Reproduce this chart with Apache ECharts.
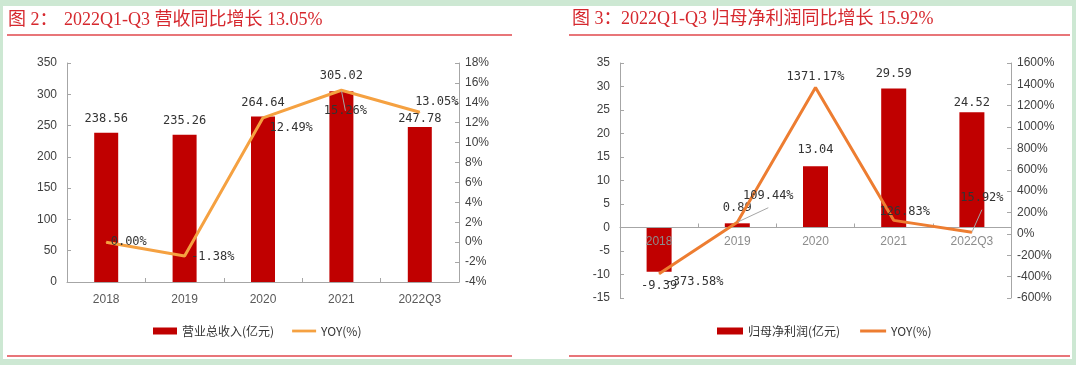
<!DOCTYPE html>
<html>
<head>
<meta charset="utf-8">
<script src="https://cdn.jsdelivr.net/npm/echarts@6/dist/echarts.min.js"></script>
<style>
html,body{margin:0;padding:0;background:#cde8d3;}
#c{width:1076px;height:365px;}
</style>
</head>
<body>
<div id="c"></div>
<script>
// ---- data ----
const categories = ['2018', '2019', '2020', '2021', '2022Q3'];
const revenue = [238.56, 235.26, 264.64, 305.02, 247.78];       // 营业总收入(亿元)
const revenueYoy = [0.00, -1.38, 12.49, 15.26, 13.05];          // YOY(%)
const profit = [-9.39, 0.89, 13.04, 29.59, 24.52];              // 归母净利润(亿元)
const profitYoy = [-373.58, 109.44, 1371.17, 126.83, 15.92];    // YOY(%)
const leftAxis1 = [0, 350, 50];
const rightAxis1 = [-4, 18, 2];
const leftAxis2 = [-15, 35, 5];
const rightAxis2 = [-600, 1600, 200];
const title1 = ['图 2：', '2022Q1-Q3 营收同比增长 13.05%'];
const title2 = ['图 3：', '2022Q1-Q3 归母净利润同比增长 15.92%'];

// ---- styles ----
const RED = '#c00000';
const ORANGE1 = '#f5a141';
const ORANGE2 = '#ed7d31';
const AX = '#a6a6a6';
const TXT = '#404040';
const LBL = {fontFamily: 'DejaVu Sans Mono', fontSize: 12, color: '#333'};
const TITLE_FONT = '18px "Liberation Serif", "Noto Sans CJK SC", serif';
const LINE_ICON = 'path://M0,0h26v3h-26z';
const GUIDE = {show: true, lineStyle: {color: '#a6a6a6', width: 1}};

const grid2 = {left: 620, right: 1076 - 1011, top: 63, bottom: 365 - 298};
// distance from the zero line of the right chart's left axis to the grid bottom
const grid2Height = 365 - grid2.top - grid2.bottom;
const zeroToBottom = grid2Height * (0 - leftAxis2[0]) / (leftAxis2[1] - leftAxis2[0]);

const lineLabel1 = [
  {position: 'right', distance: 4, offset: [0, 0]},
  {position: 'right', distance: 6, offset: [0, 1]},
  {position: 'right', distance: 6, offset: [0, 10]},
  {position: 'bottom', distance: 14, offset: [4, 0]},
  {position: 'top', distance: 4, offset: [17, 0]}
];
const lineGuide1 = [null, null, null, GUIDE, null];
const barLabel1Dist = [8, 8, 8, 9, 2];
const lineLabel2 = [
  {position: 'right', distance: 6, offset: [0, 8]},
  {position: 'top', distance: 4, offset: [31, -16]},
  {position: 'top', distance: 4, offset: [0, 0]},
  {position: 'top', distance: 2, offset: [11, 0]},
  {position: 'top', distance: 4, offset: [10, -24]}
];
const lineGuide2 = [null, GUIDE, null, null, GUIDE];
const barLabel2 = [
  {position: 'bottom', distance: 8},
  {position: 'top', distance: 9},
  {position: 'top', distance: 10},
  {position: 'top', distance: 9},
  {position: 'top', distance: 3}
];

function fmt2(v) { return Number(v).toFixed(2); }
function lineItem(v, lab, guide) {
  const o = {value: v, label: lab};
  if (guide) o.labelLine = guide;
  return o;
}

function yAxis(grid, rng, pos, pct) {
  return {
    type: 'value', gridIndex: grid, position: pos,
    min: rng[0], max: rng[1], interval: rng[2],
    axisLine: {show: true, lineStyle: {color: AX, width: 1}},
    axisTick: {show: true, inside: true, length: 4, lineStyle: {color: AX}},
    splitLine: {show: false},
    axisLabel: {
      color: TXT, fontSize: 12, fontFamily: 'Liberation Sans',
      margin: pos === 'left' ? 10 : 6,
      formatter: pct ? (v => v + '%') : (v => String(v))
    }
  };
}
function xAxis(grid, margin, z, color) {
  return {
    type: 'category', gridIndex: grid, data: categories, z: z,
    axisLine: {show: true, onZero: true, lineStyle: {color: AX, width: 1}},
    axisTick: {show: true, inside: true, length: 4, lineStyle: {color: AX}},
    axisLabel: {color: color, fontSize: 12, fontFamily: 'Liberation Sans', margin: margin}
  };
}

const option = {
  backgroundColor: '#cde8d3',
  animation: false,
  graphic: [
    {type: 'rect', shape: {x: 3, y: 6, width: 1069, height: 353}, style: {fill: '#fff'}, z: -10},
    {type: 'line', shape: {x1: 7, y1: 35, x2: 512, y2: 35}, style: {stroke: '#e0474c', lineWidth: 1.5}},
    {type: 'line', shape: {x1: 569, y1: 35, x2: 1070, y2: 35}, style: {stroke: '#e0474c', lineWidth: 1.5}},
    {type: 'line', shape: {x1: 7, y1: 356, x2: 512, y2: 356}, style: {stroke: '#e0474c', lineWidth: 1.5}},
    {type: 'line', shape: {x1: 569, y1: 356, x2: 1070, y2: 356}, style: {stroke: '#e0474c', lineWidth: 1.5}},
    {type: 'text', x: 8, y: 20, style: {text: title1[0], font: TITLE_FONT, fill: '#d6282e', verticalAlign: 'middle'}},
    {type: 'text', x: 64, y: 20, style: {text: title1[1], font: TITLE_FONT, fill: '#d6282e', verticalAlign: 'middle'}},
    {type: 'text', x: 572, y: 19, style: {text: title2[0], font: TITLE_FONT, fill: '#d6282e', verticalAlign: 'middle'}},
    {type: 'text', x: 621, y: 19, style: {text: title2[1], font: TITLE_FONT, fill: '#d6282e', verticalAlign: 'middle'}}
  ],
  grid: [
    {left: 67, right: 1076 - 459, top: 63, bottom: 365 - 282},
    grid2
  ],
  xAxis: [xAxis(0, 12, 0, '#595959'), xAxis(1, 8 - zeroToBottom, 3, '#8c8c8c')],
  yAxis: [
    yAxis(0, leftAxis1, 'left', false),
    yAxis(0, rightAxis1, 'right', true),
    yAxis(1, leftAxis2, 'left', false),
    yAxis(1, rightAxis2, 'right', true)
  ],
  legend: [
    {
      left: 148, top: 320, itemWidth: 24, itemHeight: 7, itemGap: 18,
      textStyle: {color: '#333', fontSize: 12, fontFamily: 'Noto Sans CJK SC'},
      data: [
        {name: '营业总收入(亿元)', icon: 'rect'},
        {name: 'YOY(%)', icon: LINE_ICON, itemStyle: {color: ORANGE1}}
      ]
    },
    {
      left: 712, top: 320, itemWidth: 26, itemHeight: 7, itemGap: 20,
      textStyle: {color: '#333', fontSize: 12, fontFamily: 'Noto Sans CJK SC'},
      data: [
        {name: '归母净利润(亿元)', icon: 'rect'},
        {name: 'YOY(%) ', icon: LINE_ICON, itemStyle: {color: ORANGE2}}
      ]
    }
  ],
  series: [
    {
      name: '营业总收入(亿元)', type: 'bar', xAxisIndex: 0, yAxisIndex: 0,
      barWidth: 24, itemStyle: {color: RED},
      data: revenue.map((v, i) => ({value: v, label: {distance: barLabel1Dist[i]}})),
      label: Object.assign({show: true, position: 'top', formatter: p => fmt2(p.value)}, LBL)
    },
    {
      name: 'YOY(%)', type: 'line', xAxisIndex: 0, yAxisIndex: 1,
      symbol: 'circle', symbolSize: 1, z: 5,
      lineStyle: {color: ORANGE1, width: 3}, itemStyle: {color: ORANGE1},
      data: revenueYoy.map((v, i) => lineItem(v, lineLabel1[i], lineGuide1[i])),
      label: Object.assign({show: true, formatter: p => fmt2(p.value) + '%'}, LBL)
    },
    {
      name: '归母净利润(亿元)', type: 'bar', xAxisIndex: 1, yAxisIndex: 2,
      barWidth: 25, itemStyle: {color: RED},
      data: profit.map((v, i) => ({value: v, label: barLabel2[i]})),
      label: Object.assign({show: true, formatter: p => fmt2(p.value)}, LBL)
    },
    {
      name: 'YOY(%) ', type: 'line', xAxisIndex: 1, yAxisIndex: 3,
      symbol: 'circle', symbolSize: 1, z: 5,
      lineStyle: {color: ORANGE2, width: 3}, itemStyle: {color: ORANGE2},
      data: profitYoy.map((v, i) => lineItem(v, lineLabel2[i], lineGuide2[i])),
      label: Object.assign({show: true, formatter: p => fmt2(p.value) + '%'}, LBL)
    }
  ]
};

const chart = echarts.init(document.getElementById('c'), null, {renderer: 'canvas'});
chart.setOption(option);
</script>
</body>
</html>
